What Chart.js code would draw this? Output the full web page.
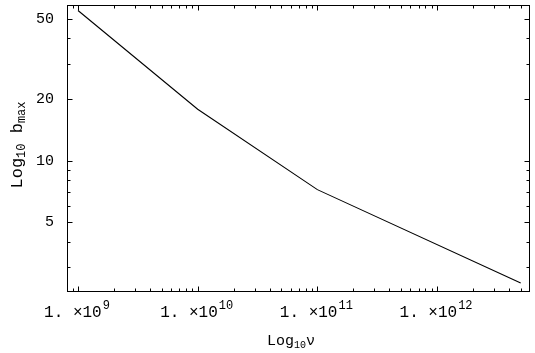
<!DOCTYPE html>
<html>
<head>
<meta charset="utf-8">
<script src="https://cdn.jsdelivr.net/npm/chart.js@4/dist/chart.umd.min.js"></script>
<style>
  html, body { margin: 0; padding: 0; background: #fff; }
  #wrap { width: 535px; height: 353px; position: relative; }
</style>
</head>
<body>
<div id="wrap"><canvas id="c" width="535" height="353"></canvas></div>
<script>
// ---- data ----
const nuValues = [1e9, 1e10, 1e11, 5e12];
const bMaxValues = [54.8, 17.9, 7.2, 2.5];

// ---- axis ticks ----
const xMajorTicks = [1e9, 1e10, 1e11, 1e12];
const xTickMantissa = ['1. \u00d710', '1. \u00d710', '1. \u00d710', '1. \u00d710'];
const xTickExponents = ['9', '10', '11', '12'];
const xMinorMultipliers = [2, 3, 4, 5, 6, 7, 8, 9];
const xMinorDecades = [1e8, 1e9, 1e10, 1e11, 1e12];
const yMajorTicks = [5, 10, 20, 50];
const yTickLabels = ['5', '10', '20', '50'];
const yMinorTicks = [3, 4, 6, 7, 8, 9, 30, 40];

const xRange = [8.09e8, 5.98e12];
const yRange = [2.258, 58.3];

const FONT = '"Liberation Mono", "DejaVu Sans Mono", monospace';

const framePlugin = {
  id: 'frame',
  afterDraw(chart) {
    const ctx = chart.ctx;
    const a = chart.chartArea;
    const xs = chart.scales.x, ys = chart.scales.y;
    ctx.save();
    ctx.strokeStyle = '#000';
    ctx.lineWidth = 1;
    ctx.strokeRect(Math.round(a.left) + 0.5, Math.round(a.top) + 0.5,
                   Math.round(a.right - a.left) - 1, Math.round(a.bottom - a.top) - 1);
    const L = Math.round(a.left) + 0.5, R = Math.round(a.right) - 0.5;
    const T = Math.round(a.top) + 0.5, B = Math.round(a.bottom) - 0.5;
    ctx.beginPath();
    const xTick = (v, len) => {
      if (v < xRange[0] || v > xRange[1]) return;
      const px = Math.round(xs.getPixelForValue(v)) + 0.5;
      ctx.moveTo(px, B); ctx.lineTo(px, B - len);
      ctx.moveTo(px, T); ctx.lineTo(px, T + len);
    };
    const yTick = (v, len) => {
      if (v < yRange[0] || v > yRange[1]) return;
      const py = Math.round(ys.getPixelForValue(v)) + 0.5;
      ctx.moveTo(L, py); ctx.lineTo(L + len, py);
      ctx.moveTo(R, py); ctx.lineTo(R - len, py);
    };
    xMajorTicks.forEach(v => xTick(v, 5));
    xMinorDecades.forEach(d => xMinorMultipliers.forEach(m => xTick(m * d, 3)));
    yMajorTicks.forEach(v => yTick(v, 5));
    yMinorTicks.forEach(v => yTick(v, 3));
    ctx.stroke();

    ctx.fillStyle = '#000';
    ctx.textBaseline = 'alphabetic';
    ctx.textAlign = 'left';
    const tickF = '16px ' + FONT, supF = '12px ' + FONT;
    xMajorTicks.forEach((v, i) => {
      const px = xs.getPixelForValue(v);
      ctx.font = tickF;
      const w1 = ctx.measureText(xTickMantissa[i]).width + 1;
      ctx.font = supF;
      const w2 = ctx.measureText(xTickExponents[i]).width;
      const x0 = px - (w1 + w2) / 2 - 1;
      ctx.font = tickF;
      ctx.fillText(xTickMantissa[i], x0, 317);
      ctx.font = supF;
      ctx.fillText(xTickExponents[i], x0 + w1, 309);
    });

    const drawParts = (parts, cx, cy) => {
      let total = 0;
      parts.forEach(p => { ctx.font = p.f; total += ctx.measureText(p.t).width; });
      let x = cx - total / 2;
      parts.forEach(p => { ctx.font = p.f; ctx.fillText(p.t, x, cy + p.dy); x += ctx.measureText(p.t).width; });
    };
    const bigF = '15px ' + FONT, subF = '10px ' + FONT;
    drawParts([{t: 'Log', f: bigF, dy: 0}, {t: '10', f: subF, dy: 3}, {t: '\u03bd', f: bigF, dy: 0}], 291, 345);

    const yBigF = '17px ' + FONT, ySubF = '12px ' + FONT;
    ctx.save();
    ctx.translate(22, 145);
    ctx.rotate(-Math.PI / 2);
    drawParts([{t: 'Log', f: yBigF, dy: 0}, {t: '10', f: ySubF, dy: 3}, {t: ' b', f: yBigF, dy: 0}, {t: 'max', f: ySubF, dy: 3}], 0, 0);
    ctx.restore();
    ctx.restore();
  }
};

new Chart(document.getElementById('c'), {
  type: 'scatter',
  data: {
    datasets: [{
      data: nuValues.map((v, i) => ({x: v, y: bMaxValues[i]})),
      showLine: true,
      borderColor: '#000',
      borderWidth: 1.1,
      pointRadius: 0,
      fill: false,
      tension: 0
    }]
  },
  options: {
    responsive: false,
    animation: false,
    layout: { padding: { top: 5, right: 5, left: 0, bottom: 0 } },
    plugins: { legend: { display: false }, tooltip: { enabled: false } },
    scales: {
      x: {
        type: 'logarithmic',
        min: xRange[0], max: xRange[1],
        grid: { display: false, drawTicks: false },
        border: { display: false },
        ticks: { display: false },
        afterFit(s) { s.height = 61; s.paddingLeft = 0; s.paddingRight = 0; }
      },
      y: {
        type: 'logarithmic',
        min: yRange[0], max: yRange[1],
        grid: { display: false, drawTicks: false },
        border: { display: false },
        afterBuildTicks(s) { s.ticks = yMajorTicks.map(v => ({value: v})); },
        ticks: {
          padding: 13,
          color: '#000',
          font: { family: FONT, size: 15 },
          callback(v) { const i = yMajorTicks.indexOf(v); return i >= 0 ? yTickLabels[i] : ''; }
        },
        afterFit(s) { s.width = 67; s.paddingTop = 0; s.paddingBottom = 0; }
      }
    }
  },
  plugins: [framePlugin]
});
</script>
</body>
</html>
